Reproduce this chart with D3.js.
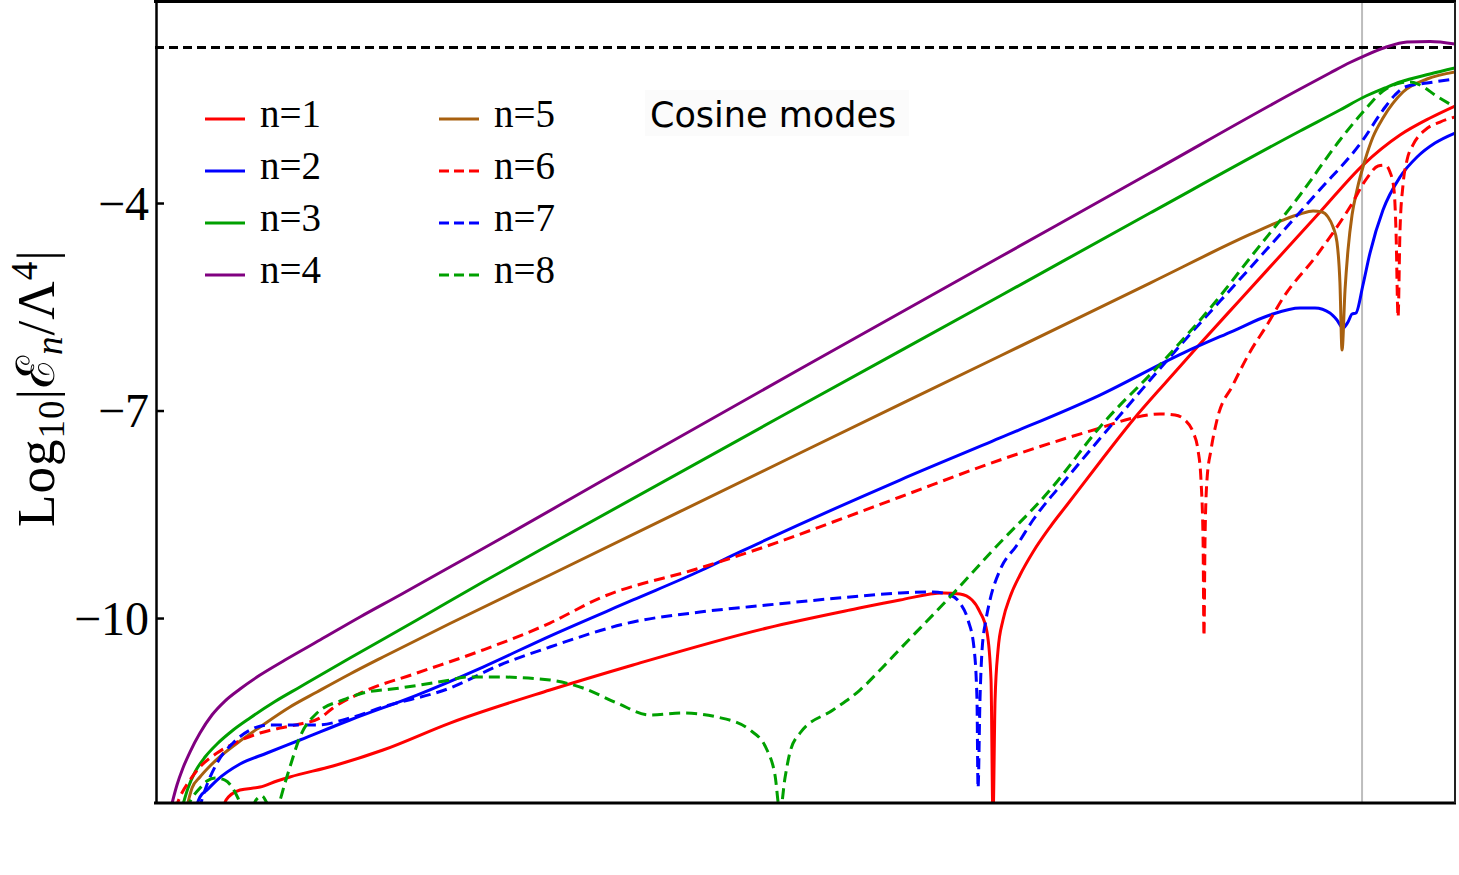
<!DOCTYPE html>
<html>
<head>
<meta charset="utf-8">
<script src="https://cdn.jsdelivr.net/npm/d3@7"></script>
<style>
  body { margin: 0; background: #fff; }
  svg { display: block; }
</style>
</head>
<body>
<script>
// y ticks and reference levels
var yTicks = [-4, -7, -10];
var thresholdLevel = -1.75;
var markerT = 9.285;
var legendLabels = ["n=1", "n=2", "n=3", "n=4", "n=5", "n=6", "n=7", "n=8"];
var noteText = "Cosine modes";

// curves: time t and log10 |E_n / Lambda^4|
var n1T = [0.523,0.546,0.654,0.808,0.938,1.038,1.369,1.754,2.269,3.038,3.677,4.708,5.346,5.731,6.062,6.192,6.285,6.346,6.4,6.431,6.446,6.462,6.485,6.523,6.577,6.654,6.754,6.885,7.015,7.269,7.523,7.785,8.038,8.346,8.654,8.962,9.292,9.577,9.808,10];
var n1V = [-12.77,-12.631,-12.486,-12.443,-12.356,-12.298,-12.139,-11.908,-11.518,-11.041,-10.679,-10.144,-9.884,-9.739,-9.638,-9.653,-9.739,-9.913,-10.202,-10.896,-12.9,-11.185,-10.462,-10.029,-9.696,-9.378,-9.045,-8.684,-8.366,-7.744,-7.137,-6.573,-6.038,-5.402,-4.766,-4.130,-3.451,-3.017,-2.771,-2.598];

var n2T = [0.308,0.346,0.4,0.477,0.654,0.862,1.115,1.5,2.015,2.523,3.038,3.677,4.192,4.5,5.731,6.5,7.269,7.908,8.292,8.577,8.808,8.923,9.038,9.092,9.138,9.177,9.208,9.238,9.292,9.346,9.446,9.577,9.708,9.846,10];
var n2V = [-12.77,-12.587,-12.486,-12.342,-12.110,-11.951,-11.763,-11.474,-11.113,-10.708,-10.260,-9.739,-9.320,-9.045,-8.005,-7.397,-6.776,-6.169,-5.851,-5.619,-5.518,-5.518,-5.590,-5.691,-5.807,-5.720,-5.605,-5.590,-5.185,-4.723,-4.101,-3.624,-3.335,-3.133,-2.988];

var n3T = [0.2,0.254,0.308,0.385,0.477,0.592,0.731,0.923,1.115,1.5,2.015,2.523,2.962,4.962,6.5,7.654,8.808,9.115,9.292,9.462,9.577,9.808,10];
var n3V = [-12.8,-12.457,-12.226,-12.009,-11.821,-11.633,-11.445,-11.207,-10.997,-10.578,-10.029,-9.479,-9.017,-6.935,-5.345,-4.145,-2.959,-2.656,-2.475,-2.337,-2.251,-2.135,-2.048];

var n4T = [0.115,0.169,0.215,0.269,0.346,0.438,0.538,0.654,0.808,1.0,1.269,1.577,1.885,2.269,2.654,3.423,4.962,6.5,7.654,8.808,9.038,9.192,9.308,9.462,9.631,9.808,10];
var n4V = [-12.8,-12.414,-12.168,-11.937,-11.662,-11.402,-11.200,-11.026,-10.824,-10.607,-10.318,-9.985,-9.667,-9.262,-8.858,-8.034,-6.400,-4.781,-3.566,-2.352,-2.121,-1.969,-1.868,-1.752,-1.672,-1.665,-1.701];

var n5T = [0.231,0.285,0.346,0.423,0.515,0.654,0.808,1.038,1.246,1.5,1.754,2.269,3.038,4.962,6.5,7.654,8.423,8.677,8.808,8.908,8.977,9.023,9.062,9.092,9.115,9.131,9.154,9.177,9.208,9.246,9.308,9.369,9.446,9.6,9.785,10];
var n5V = [-12.85,-12.457,-12.298,-12.139,-11.980,-11.778,-11.575,-11.286,-11.069,-10.809,-10.563,-10.079,-9.378,-7.614,-6.212,-5.157,-4.455,-4.246,-4.159,-4.116,-4.130,-4.202,-4.347,-4.564,-5.157,-6.125,-5.258,-4.679,-4.173,-3.812,-3.378,-3.046,-2.771,-2.395,-2.207,-2.106];

var n6T = [0.154,0.192,0.269,0.346,0.477,0.631,0.808,0.962,1.115,1.269,1.369,1.6,2.015,2.523,3.038,3.423,4.192,4.708,5.215,5.731,6.5,7.015,7.269,7.523,7.731,7.846,7.923,7.985,8.023,8.046,8.062,8.069,8.077,8.092,8.123,8.169,8.292,8.423,8.554,8.677,8.938,9.192,9.323,9.408,9.462,9.5,9.531,9.546,9.562,9.577,9.6,9.631,9.677,9.769,9.885,10];
var n6V = [-12.77,-12.587,-12.342,-12.154,-11.951,-11.792,-11.662,-11.590,-11.532,-11.445,-11.301,-11.069,-10.795,-10.462,-10.072,-9.711,-9.277,-8.959,-8.612,-8.250,-7.715,-7.397,-7.253,-7.108,-7.050,-7.065,-7.137,-7.311,-7.571,-8.005,-8.872,-10.260,-8.872,-8.005,-7.571,-7.137,-6.631,-6.154,-5.764,-5.373,-4.752,-4.058,-3.639,-3.465,-3.451,-3.552,-3.812,-4.390,-5.648,-4.390,-3.740,-3.378,-3.161,-2.945,-2.829,-2.757];

var n7T = [0.338,0.385,0.477,0.6,0.731,0.862,1.038,1.246,1.5,1.754,2.269,2.654,3.038,3.677,4.192,4.708,5.346,5.731,5.985,6.115,6.192,6.254,6.3,6.323,6.331,6.346,6.362,6.392,6.423,6.5,6.631,6.754,7.015,7.523,7.808,8.423,8.938,9.292,9.446,9.538,9.615,9.785,10];
var n7V = [-12.77,-12.486,-12.096,-11.807,-11.619,-11.547,-11.547,-11.547,-11.445,-11.286,-11.012,-10.679,-10.419,-10.057,-9.913,-9.812,-9.696,-9.638,-9.624,-9.667,-9.783,-10.029,-10.433,-11.185,-12.457,-11.185,-10.462,-10.029,-9.739,-9.306,-8.944,-8.583,-7.976,-6.848,-6.226,-4.940,-3.855,-3.089,-2.656,-2.439,-2.323,-2.265,-2.207];

var n8T = [0.238,0.285,0.346,0.4,0.462,0.538,0.592,0.638,0.677,0.731,0.777,0.823,0.862,0.908,0.954,1.0,1.038,1.115,1.246,1.446,1.6,1.885,2.269,2.4,2.654,3.038,3.292,3.554,3.808,4.062,4.323,4.577,4.708,4.769,4.808,4.846,4.885,4.962,5.215,5.423,5.6,5.731,6.115,6.446,6.885,7.269,7.785,8.169,8.423,8.808,9.115,9.292,9.446,9.577,9.654,9.746,9.846,10];
var n8V = [-12.77,-12.602,-12.457,-12.356,-12.313,-12.342,-12.443,-12.602,-12.77,-12.8,-12.631,-12.573,-12.674,-12.8,-12.674,-12.385,-12.154,-11.720,-11.373,-11.185,-11.084,-11.012,-10.896,-10.853,-10.853,-10.896,-11.012,-11.229,-11.402,-11.373,-11.431,-11.619,-11.908,-12.269,-12.8,-12.313,-11.937,-11.662,-11.330,-11.041,-10.708,-10.448,-9.696,-9.017,-8.149,-7.238,-6.226,-5.402,-4.795,-3.884,-3.089,-2.684,-2.381,-2.265,-2.251,-2.309,-2.439,-2.612];

var seriesT = [n1T, n2T, n3T, n4T, n5T, n6T, n7T, n8T];
var seriesV = [n1V, n2V, n3V, n4V, n5V, n6V, n7V, n8V];

// styles
var colors = ["#ff0000", "#0000ff", "#00a000", "#800080", "#a8600f", "#ff0000", "#0000ff", "#00a000"];
var dashes = [null, null, null, null, null, "11,6", "11,6", "11,6"];

var W = 1459, H = 875;
var pLeft = 155, pRight = 1455, pTop = 2, pBottom = 803;

var svg = d3.select("body").append("svg").attr("width", W).attr("height", H);
svg.append("rect").attr("width", W).attr("height", H).attr("fill", "#fff");

var x = d3.scaleLinear().domain([0, 10]).range([pLeft, pRight]);
var y = d3.scaleLinear().domain([-12.674, -1.094]).range([pBottom, pTop]);

svg.append("defs").append("clipPath").attr("id", "plotclip")
  .append("rect").attr("x", pLeft).attr("y", pTop).attr("width", pRight - pLeft).attr("height", pBottom - pTop);

var plot = svg.append("g").attr("clip-path", "url(#plotclip)");

// gray marker line
plot.append("line")
  .attr("x1", x(markerT)).attr("x2", x(markerT))
  .attr("y1", pTop).attr("y2", pBottom)
  .attr("stroke", "#bdbdbd").attr("stroke-width", 2);

// black dashed level
plot.append("line")
  .attr("x1", pLeft).attr("x2", pRight)
  .attr("y1", y(thresholdLevel)).attr("y2", y(thresholdLevel))
  .attr("stroke", "#000").attr("stroke-width", 3).attr("stroke-dasharray", "9,5");

var line = d3.line()
  .x(function(d) { return x(d.t); })
  .y(function(d) { return y(d.v); })
  .curve(d3.curveMonotoneX);

for (var p = 0; p < 8; p++) {
  var pts = seriesT[p].map(function(t, i) { return { t: t, v: seriesV[p][i] }; });
  var path = plot.append("path")
    .attr("fill", "none")
    .attr("stroke", colors[p])
    .attr("stroke-width", 3)
    .attr("stroke-linejoin", "round")
    .attr("d", line(pts));
  if (dashes[p]) path.attr("stroke-dasharray", dashes[p]);
}

// frame
var frame = svg.append("g").attr("stroke", "#000").attr("fill", "none");
frame.append("line").attr("x1", pLeft - 1).attr("x2", pRight + 1).attr("y1", 1.5).attr("y2", 1.5).attr("stroke-width", 3);
frame.append("line").attr("x1", pLeft - 1).attr("x2", pRight + 1).attr("y1", pBottom).attr("y2", pBottom).attr("stroke-width", 3);
frame.append("line").attr("x1", pRight).attr("x2", pRight).attr("y1", pTop).attr("y2", pBottom).attr("stroke-width", 2).attr("stroke", "#222");

// y axis, ticks inside
var yAxis = d3.axisLeft(y).tickValues(yTicks).tickSizeInner(-8).tickSizeOuter(0).tickPadding(7)
  .tickFormat(function(d) { return "\u2212" + Math.abs(d); });
var ya = svg.append("g").attr("transform", "translate(" + (pLeft + 1) + ",0)").call(yAxis);
ya.select(".domain").attr("stroke", "#000").attr("stroke-width", 2.5);
ya.selectAll(".tick line").attr("stroke", "#000").attr("stroke-width", 2.5);
ya.selectAll(".tick text")
  .attr("font-family", "'Liberation Serif', 'DejaVu Serif', serif")
  .attr("font-size", 48).attr("fill", "#000").attr("dy", "0.34em");

// y label
var yl = svg.append("text")
  .attr("transform", "translate(54,388) rotate(-90)")
  .attr("text-anchor", "middle")
  .attr("font-family", "'Liberation Serif', 'DejaVu Serif', serif")
  .attr("font-size", 53).attr("letter-spacing", 1).attr("fill", "#000");
yl.append("tspan").text("Log");
yl.append("tspan").attr("font-size", 37).attr("dy", 10).text("10");
yl.append("tspan").attr("dy", -10).text("|\u2130");
yl.append("tspan").attr("font-size", 37).attr("font-style", "italic").attr("dy", 8).text("n");
yl.append("tspan").attr("dy", -8).text("/\u039B");
yl.append("tspan").attr("font-size", 37).attr("dy", -17).text("4");
yl.append("tspan").attr("dy", 17).text("|");

// legend
var legend = svg.append("g");
legendLabels.forEach(function(lab, i) {
  var col = Math.floor(i / 4), row = i % 4;
  var lx = 205 + col * 234, ly = 119 + row * 52;
  var ln = legend.append("line")
    .attr("x1", lx).attr("x2", lx + 40).attr("y1", ly).attr("y2", ly)
    .attr("stroke", colors[i]).attr("stroke-width", 3);
  if (dashes[i]) ln.attr("stroke-dasharray", "10,5");
  legend.append("text")
    .attr("x", lx + 55).attr("y", ly + 8)
    .attr("font-family", "'Liberation Serif', 'DejaVu Serif', serif")
    .attr("font-size", 39).attr("fill", "#000")
    .text(lab);
});

// note
svg.append("rect").attr("x", 645).attr("y", 90).attr("width", 264).attr("height", 46).attr("fill", "#fbfbfb");
svg.append("text")
  .attr("x", 650).attr("y", 127)
  .attr("font-family", "'DejaVu Sans', sans-serif")
  .attr("font-size", 35).attr("fill", "#000")
  .text(noteText);
</script>
</body>
</html>
